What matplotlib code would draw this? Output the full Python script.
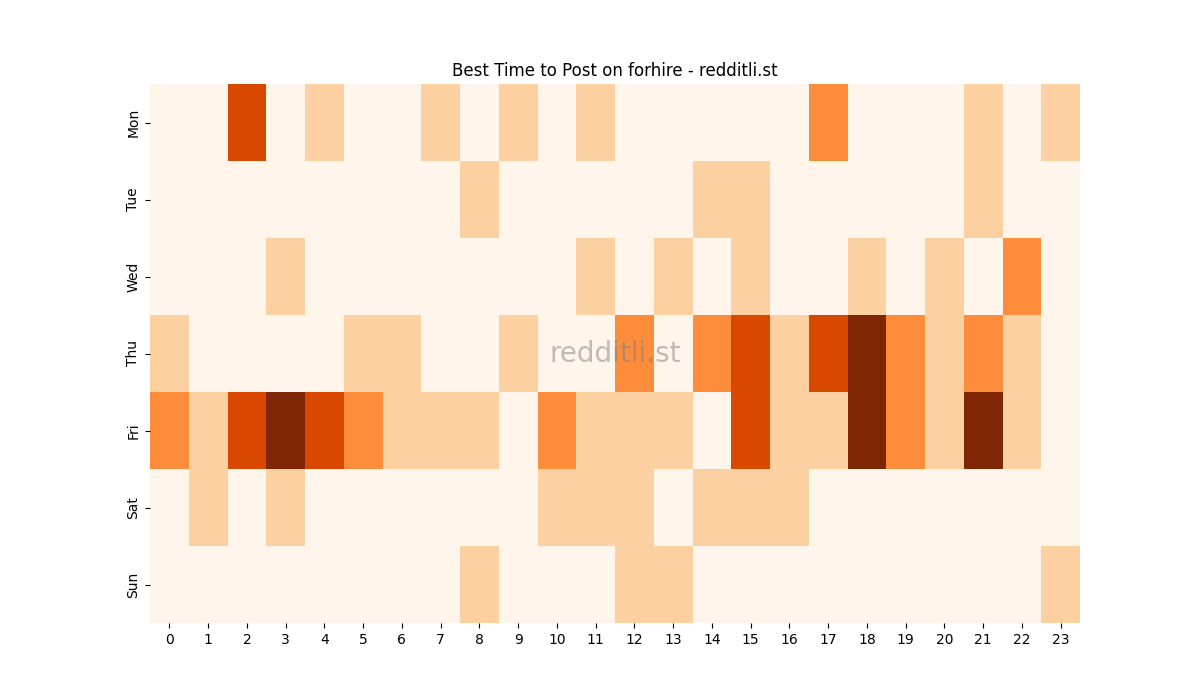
import numpy as np
import matplotlib
matplotlib.use("Agg")
import matplotlib.pyplot as plt
import seaborn as sns

days = ["Mon", "Tue", "Wed", "Thu", "Fri", "Sat", "Sun"]
hours = list(range(24))

# nombre de posts par jour / heure
mon = [0, 0, 3, 0, 1, 0, 0, 1, 0, 1, 0, 1, 0, 0, 0, 0, 0, 2, 0, 0, 0, 1, 0, 1]
tue = [0, 0, 0, 0, 0, 0, 0, 0, 1, 0, 0, 0, 0, 0, 1, 1, 0, 0, 0, 0, 0, 1, 0, 0]
wed = [0, 0, 0, 1, 0, 0, 0, 0, 0, 0, 0, 1, 0, 1, 0, 1, 0, 0, 1, 0, 1, 0, 2, 0]
thu = [1, 0, 0, 0, 0, 1, 1, 0, 0, 1, 0, 0, 2, 0, 2, 3, 1, 3, 4, 2, 1, 2, 1, 0]
fri = [2, 1, 3, 4, 3, 2, 1, 1, 1, 0, 2, 1, 1, 1, 0, 3, 1, 1, 4, 2, 1, 4, 1, 0]
sat = [0, 1, 0, 1, 0, 0, 0, 0, 0, 0, 1, 1, 1, 0, 1, 1, 1, 0, 0, 0, 0, 0, 0, 0]
sun = [0, 0, 0, 0, 0, 0, 0, 0, 1, 0, 0, 0, 1, 1, 0, 0, 0, 0, 0, 0, 0, 0, 0, 1]

data = np.array([mon, tue, wed, thu, fri, sat, sun])

fig, ax = plt.subplots(figsize=(12, 7), dpi=100)
sns.heatmap(data, cmap="Oranges", cbar=False, ax=ax,
            xticklabels=hours, yticklabels=days)
ax.set_title("Best Time to Post on forhire - redditli.st")
ax.text(0.5, 0.5, "redditli.st", transform=ax.transAxes, fontsize=20,
        color="gray", alpha=0.5, ha="center", va="center")
plt.savefig("out.png")
